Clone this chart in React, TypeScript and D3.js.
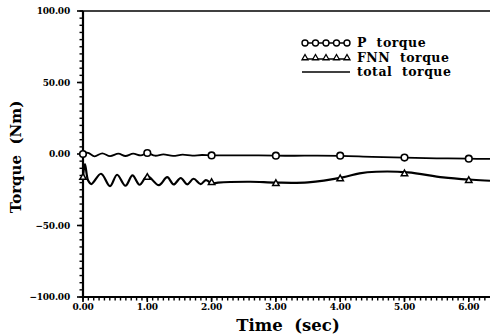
import * as d3 from "d3";

const W = 490;
const H = 336;
const MARGIN = { top: 11, right: 0, bottom: 39, left: 83 };

// upper curve (P torque)
const pTime = [0, 0.08, 0.18, 0.3, 0.42, 0.55, 0.66, 0.78, 0.9, 1.0, 1.12, 1.25, 1.4, 1.55, 1.7, 1.85, 2.0, 2.5, 3.0, 3.5, 4.0, 4.5, 5.0, 5.5, 6.0, 6.33];
const pTorque = [0.5, 0.8, -1.6, 0.5, -1.5, 0.2, -1.4, 0.2, -1.0, 0.7, -1.2, -0.3, -1.3, -0.5, -1.2, -0.7, -1.0, -0.9, -1.2, -1.2, -1.3, -2.0, -2.5, -3.0, -3.3, -3.4];

// lower curve (total torque, FNN lies on it)
const totalTime = [0, 0.03, 0.08, 0.13, 0.28, 0.42, 0.53, 0.66, 0.77, 0.88, 1.0, 1.18, 1.31, 1.41, 1.52, 1.62, 1.72, 1.83, 1.91, 2.01, 2.1, 2.6, 3.0, 3.5, 4.04, 4.3, 4.56, 5.05, 5.6, 6.06, 6.33];
const totalTorque = [-16, -7, -18.6, -21, -13.8, -22.5, -14.5, -22.2, -15, -21.5, -15.5, -21.8, -16.2, -21.3, -16.8, -21.2, -17.3, -21, -18.3, -20.6, -20, -19.4, -20, -19.8, -16.3, -13.5, -12.4, -12.8, -16.3, -18, -18.7];

// marker positions
const markerTimes = [0, 1, 2, 3, 4, 5, 6];
const pMarkers = [0, 0.7, -1, -1.2, -1.2, -2.5, -3.3];
const fnnMarkers = [-16, -16, -19.6, -20.3, -17, -13.5, -18.2];

const xTicks = [0, 1, 2, 3, 4, 5, 6];
const yTicks = [-100, -50, 0, 50, 100];
const legendLabels = ["P\u00a0 torque", "FNN\u00a0 torque", "total\u00a0 torque"];

const FONT = "'DejaVu Serif', serif";

function triPath(cx: number, cy: number, s: number) {
  return `M${cx},${cy - s}L${cx + s},${cy + s * 0.75}L${cx - s},${cy + s * 0.75}Z`;
}

export default function App() {
  const x = d3.scaleLinear().domain([0, 6.33]).range([MARGIN.left, W - MARGIN.right]);
  const y = d3.scaleLinear().domain([-100, 100]).range([H - MARGIN.bottom, MARGIN.top]);

  const line = d3
    .line<[number, number]>()
    .x((d) => x(d[0]))
    .y((d) => y(d[1]))
    .curve(d3.curveCatmullRom.alpha(0.5));

  const pPath = line(pTime.map((t, i) => [t, pTorque[i]]));
  const totalPath = line(totalTime.map((t, i) => [t, totalTorque[i]]));

  const xMinor = d3.range(0, 6.33, 1 / 12);
  const yMinor = d3.range(-100, 100.01, 5);

  const x0 = x(0);
  const yb = y(-100);

  // legend geometry
  const lx0 = 302;
  const lx1 = 350;
  const ly = [43, 58, 72];

  return (
    <svg width={W} height={H} style={{ position: "absolute", left: 0, top: 0, background: "#fff" }}>
      {/* frame */}
      <line x1={x0} x2={W} y1={y(100)} y2={y(100)} stroke="#000" strokeWidth={1.5} />
      <line x1={x0} x2={x0} y1={y(100)} y2={yb} stroke="#000" strokeWidth={2.2} />
      <line x1={x0} x2={W} y1={yb} y2={yb} stroke="#000" strokeWidth={2.2} />

      {/* y ticks */}
      {yMinor.map((v, i) => (
        <line key={"ym" + i} x1={x0 - 3.5} x2={x0} y1={y(v)} y2={y(v)} stroke="#000" strokeWidth={1.4} />
      ))}
      {yTicks.map((v) => (
        <g key={"yt" + v}>
          <line x1={x0 - 6} x2={x0} y1={y(v)} y2={y(v)} stroke="#000" strokeWidth={1.6} />
          <text x={x0 - 13} y={y(v)} dy="0.35em" textAnchor="end" fontFamily={FONT} fontWeight="bold" fontSize={9} letterSpacing={-0.2}>
            {v < 0 ? "\u2212" + Math.abs(v).toFixed(2) : v.toFixed(2)}
          </text>
        </g>
      ))}

      {/* x ticks */}
      {xMinor.map((t, i) => (
        <line key={"xm" + i} x1={x(t)} x2={x(t)} y1={yb} y2={yb + 3.5} stroke="#000" strokeWidth={1.4} />
      ))}
      {xTicks.map((t) => (
        <g key={"xt" + t}>
          <line x1={x(t)} x2={x(t)} y1={yb} y2={yb + 5} stroke="#000" strokeWidth={1.6} />
          <text x={x(t)} y={yb + 13} textAnchor="middle" fontFamily={FONT} fontWeight="bold" fontSize={9} letterSpacing={-0.2}>
            {t.toFixed(2)}
          </text>
        </g>
      ))}

      {/* axis titles */}
      <text x={288} y={331} textAnchor="middle" fontFamily={FONT} fontWeight="bold" fontSize={16.5}>
        {"Time\u00a0 (sec)"}
      </text>
      <text
        transform={`translate(21,${y(0) + 3}) rotate(-90)`}
        textAnchor="middle"
        fontFamily={FONT}
        fontWeight="bold"
        fontSize={15}
      >
        {"Torque\u00a0 (Nm)"}
      </text>

      {/* curves */}
      <path d={pPath ?? ""} fill="none" stroke="#000" strokeWidth={1.8} />
      <path d={totalPath ?? ""} fill="none" stroke="#000" strokeWidth={2.2} />

      {markerTimes.map((t, i) => (
        <circle key={"pm" + i} cx={x(t)} cy={y(pMarkers[i])} r={3.3} fill="#fff" stroke="#000" strokeWidth={1.6} />
      ))}
      {markerTimes.map((t, i) => (
        <path key={"fm" + i} d={triPath(x(t), y(fnnMarkers[i]), 3.2)} fill="#fff" stroke="#000" strokeWidth={1.5} />
      ))}

      {/* legend */}
      <line x1={lx0} x2={lx1} y1={ly[0]} y2={ly[0]} stroke="#000" strokeWidth={1.4} />
      {d3.range(5).map((k) => (
        <circle key={"lc" + k} cx={lx0 + 3 + k * 10.5} cy={ly[0]} r={3} fill="#fff" stroke="#000" strokeWidth={1.4} />
      ))}
      <line x1={lx0} x2={lx1} y1={ly[1] + 1} y2={ly[1] + 1} stroke="#000" strokeWidth={1.4} />
      {d3.range(5).map((k) => (
        <path key={"lt" + k} d={triPath(lx0 + 3 + k * 10.5, ly[1] - 0.5, 3)} fill="#fff" stroke="#000" strokeWidth={1.3} />
      ))}
      <line x1={lx0} x2={lx1} y1={ly[2]} y2={ly[2]} stroke="#000" strokeWidth={1.6} />
      {legendLabels.map((s, i) => (
        <text key={s} x={357} y={ly[i]} dy="0.35em" fontFamily={FONT} fontWeight="bold" fontSize={12.5} letterSpacing={0.5}>
          {s}
        </text>
      ))}
    </svg>
  );
}
